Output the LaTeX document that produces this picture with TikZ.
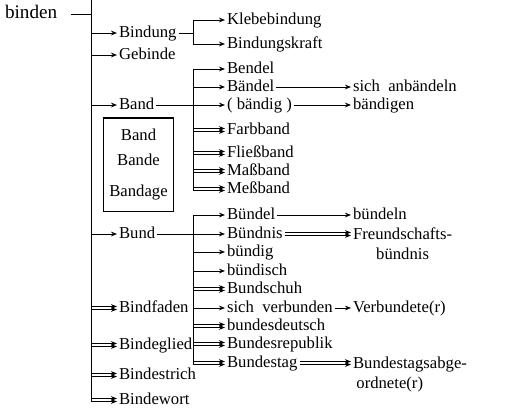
\documentclass[tikz,border=0pt]{standalone}
\usepackage{fontspec}
\setmainfont{Liberation Serif}
\usepackage{tikz}
\usetikzlibrary{arrows.meta}

\begin{document}
\begin{tikzpicture}[
	x=0.6pt, y=-0.6pt,
	line width=0.5pt,
	word/.style={
		anchor=west,
		inner sep=1pt,
		text height=7.5pt,
		text depth=2pt,
	},
	twoline/.style={
		anchor=north west,
		inner sep=1pt,
	},
	upper/.style={transform canvas={yshift=0.9pt}},
	lower/.style={transform canvas={yshift=-0.9pt}},
	plain/.style={-},
	font=\normalsize,
	arrows=->,
	>={Stealth[length=3.6pt,width=2.8pt]},
]
\useasboundingbox (0,0) rectangle (505,413);

\coordinate (trunk) at (91,0);
\coordinate (split) at (193,0);

\node [word, font=\fontsize{11.5}{13}\selectfont] (binden) at (3,14) {binden};

% first column
\node [word] (bindung) at (117,33) {Bindung};
\node [word] (gebinde) at (117,55) {Gebinde};
\node [word] (band) at (117,105) {Band};
\node [draw, line width=0.8pt, align=center, minimum width=39pt, minimum height=56pt] (bandbox) at (138.5,164.5) {Band\\[3pt]Bande\\[7pt]Bandage};
\node [word] (bund) at (117,234) {Bund};
\node [word] (bindfaden) at (117,308) {Bindfaden};
\node [word] (bindeglied) at (117,345) {Bindeglied};
\node [word] (bindestrich) at (117,375) {Bindestrich};
\node [word] (bindewort) at (117,400) {Bindewort};

% second column
\node [word] (klebe) at (225,20) {Klebebindung};
\node [word] (kraft) at (225,44) {Bindungskraft};
\node [word] (bendel) at (225,69) {Bendel};
\node [word] (baendel) at (225,87) {Bändel};
\node [word] (baendig) at (225,105) {( bändig )};
\node [word] (farbband) at (225,130) {Farbband};
\node [word] (fliessband) at (225,153) {Fließband};
\node [word] (massband) at (225,171) {Maßband};
\node [word] (messband) at (225,189) {Meßband};
\node [word] (buendel) at (225,215) {Bündel};
\node [word] (buendnis) at (225,234) {Bündnis};
\node [word] (buendig) at (225,252) {bündig};
\node [word] (buendisch) at (225,271) {bündisch};
\node [word] (bundschuh) at (225,289) {Bundschuh};
\node [word] (verbunden) at (225,308) {sich\enspace verbunden};
\node [word] (bundesdeutsch) at (225,326) {bundesdeutsch};
\node [word] (bundesrepublik) at (225,344) {Bundesrepublik};
\node [word] (bundestag) at (225,363) {Bundestag};

% third column
\node [word] (anbaendeln) at (351,87) {sich\enspace anbändeln};
\node [word] (baendigen) at (351,105) {bändigen};
\node [word] (buendeln) at (351,215) {bündeln};
\node [twoline, align=center] (freund) at (351,225.6) {Freundschafts-\\bündnis};
\node [word] (verbundete) at (351,308) {Verbundete(r)};
\node [twoline, align=left] (abgeordnete) at (351,354.6) {Bundestagsabge-\\\hspace{2pt}ordnete(r)};

% trunk
\draw [plain, shorten <=7pt] (binden) -- (binden -| trunk);
\draw [plain, shorten >=-0.9pt] (trunk) -- (trunk |- bindewort);
\foreach \n in {bindung, gebinde, band, bund}
	\draw (trunk |- \n) -- (\n);
\foreach \n in {bindfaden, bindeglied, bindestrich, bindewort} {
	\draw [upper] (trunk |- \n) -- (\n);
	\draw [lower] (trunk |- \n) -- (\n);
}

% Bindung
\draw [plain] (bindung) -- (bindung -| split);
\draw [plain] (split |- klebe) -- (split |- kraft);
\foreach \n in {klebe, kraft}
	\draw (split |- \n) -- (\n);

% Band
\draw [plain, shorten >=-0.9pt] (split |- bendel) -- (split |- messband);
\draw (band) -- (baendig);
\foreach \n in {bendel, baendel}
	\draw (split |- \n) -- (\n);
\foreach \n in {farbband, fliessband, massband, messband} {
	\draw [upper] (split |- \n) -- (\n);
	\draw [lower] (split |- \n) -- (\n);
}

% Bund
\draw [plain, shorten >=-0.9pt] (split |- buendel) -- (split |- bundestag);
\draw (bund) -- (buendnis);
\foreach \n in {buendel, buendig, buendisch, verbunden}
	\draw (split |- \n) -- (\n);
\foreach \n in {bundschuh, bundesdeutsch, bundesrepublik, bundestag} {
	\draw [upper] (split |- \n) -- (\n);
	\draw [lower] (split |- \n) -- (\n);
}

% third column
\draw (baendel) -- (anbaendeln);
\draw (baendig) -- (baendigen);
\draw (buendel) -- (buendeln);
\draw (verbunden) -- (verbundete);
\draw [upper] (buendnis) -- (buendnis -| freund.west);
\draw [lower] (buendnis) -- (buendnis -| freund.west);
\draw [upper] (bundestag) -- (bundestag -| abgeordnete.west);
\draw [lower] (bundestag) -- (bundestag -| abgeordnete.west);
\end{tikzpicture}
\end{document}
